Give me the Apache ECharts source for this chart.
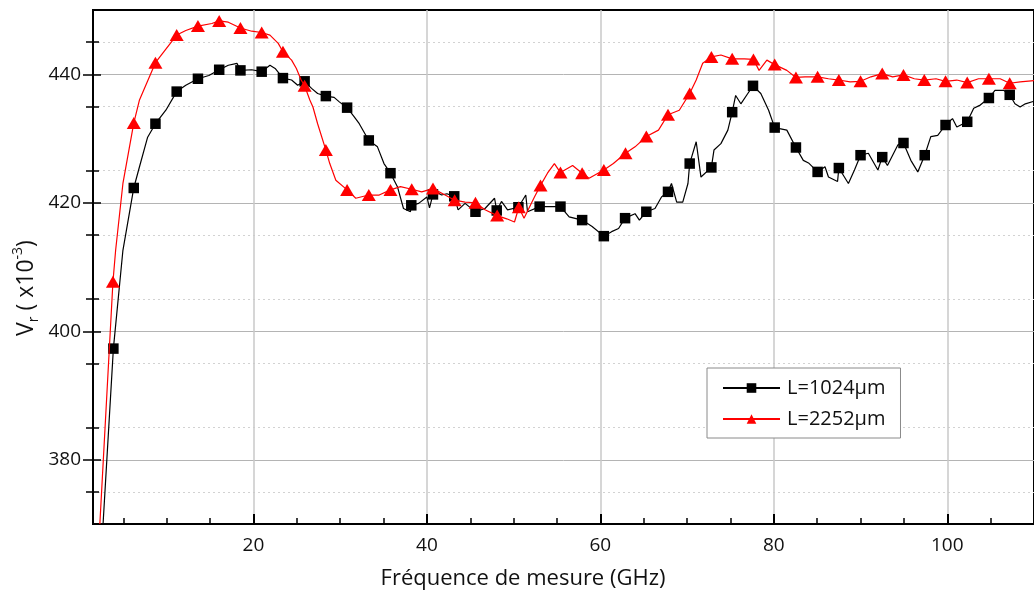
<!DOCTYPE html>
<html><head><meta charset="utf-8">
<script src="https://cdn.jsdelivr.net/npm/echarts@6/dist/echarts.min.js"></script>
<style>html,body{margin:0;padding:0;background:#fff}#c{width:1034px;height:592px}</style>
</head><body><div id="c"></div>
<script>
const xMajor = [20, 40, 60, 80, 100];
const xMinor = [5, 10, 15, 25, 30, 35, 45, 50, 55, 65, 70, 75, 85, 90, 95, 105];
const yMajor = [380, 400, 420, 440];
const yMinor = [375, 385, 395, 405, 415, 425, 435, 445];
const seriesNames = ['L=1024µm', 'L=2252µm'];
const xTitle = 'Fréquence de mesure (GHz)';

const blackMarkers = [[3.85,397.3],[6.2,422.3],[8.7,432.3],[11.15,437.3],[13.6,439.3],[16.05,440.7],[18.5,440.6],[20.95,440.4],[23.4,439.4],[25.9,438.9],[28.35,436.6],[30.8,434.8],[33.3,429.7],[35.8,424.6],[38.2,419.6],[40.7,421.3],[43.15,421.0],[45.6,418.6],[48.05,418.8],[50.55,419.3],[53.0,419.4],[55.4,419.4],[57.9,417.3],[60.4,414.8],[62.85,417.6],[65.3,418.6],[67.8,421.7],[70.3,426.1],[72.8,425.5],[75.2,434.1],[77.6,438.2],[80.1,431.7],[82.55,428.6],[85.05,424.8],[87.5,425.4],[90.0,427.4],[92.5,427.1],[94.95,429.3],[97.4,427.4],[99.8,432.1],[102.3,432.6],[104.8,436.3],[107.2,436.8]];

const blackLine = [[2.66,370],[4.95,412.6],[6.86,425.6],[7.8,430.2],[9.9,434.4],[12.2,438.3],[14.86,439.8],[17.1,441.4],[18.1,441.7],[19.8,440.7],[21.9,441.4],[22.5,440.9],[24.4,439.1],[25.1,438.3],[26.7,437.8],[27.4,437.0],[29.3,436.4],[29.9,435.7],[31.6,433.4],[32.2,432.3],[34.3,428.7],[35.05,426.1],[36.6,422.5],[37.3,419.1],[38.1,418.6],[39.05,419.9],[40.0,420.9],[40.3,419.2],[41.2,421.6],[41.7,421.2],[42.3,421.4],[43.6,418.9],[44.4,419.9],[46.7,419.1],[47.8,420.7],[48.6,420.2],[49.3,418.9],[51.4,421.2],[51.6,418.6],[54.3,419.4],[56.4,417.8],[59.05,416.3],[61.3,415.5],[62.1,416.0],[64.0,418.3],[64.5,417.3],[66.3,419.1],[67.05,420.9],[68.2,423.0],[68.8,420.1],[69.5,420.1],[70.1,423.0],[71.05,429.5],[71.6,424.0],[73.1,428.2],[73.9,429.2],[74.7,431.3],[75.6,436.7],[76.2,435.4],[77.0,437.0],[78.5,437.0],[79.4,434.4],[81.5,431.3],[83.4,426.6],[84.0,426.2],[85.9,425.6],[86.3,424.0],[87.35,423.3],[88.6,423.0],[89.3,425.1],[90.9,427.7],[92.0,425.1],[93.1,425.8],[94.3,429.0],[95.8,426.6],[96.6,424.8],[98.1,430.3],[98.9,430.5],[100.6,433.1],[101.1,431.8],[103.05,434.7],[103.8,435.2],[105.5,437.5],[106.5,437.5],[107.8,435.4],[108.4,434.9],[109.0,435.4],[110,435.8]];

const redMarkers = [[3.8,407.7],[6.2,432.4],[8.7,441.8],[11.15,446.1],[13.6,447.5],[16.05,448.3],[18.5,447.2],[20.95,446.5],[23.4,443.5],[25.9,438.2],[28.35,428.2],[30.8,422.0],[33.3,421.2],[35.8,422.0],[38.25,422.1],[40.7,422.2],[43.2,420.4],[45.6,420.0],[48.1,418.0],[50.6,419.3],[53.1,422.7],[55.4,424.7],[57.9,424.6],[60.4,425.1],[62.9,427.7],[65.3,430.3],[67.8,433.7],[70.3,437.0],[72.8,442.7],[75.2,442.4],[77.65,442.3],[80.1,441.5],[82.55,439.5],[85.05,439.6],[87.5,439.1],[90.0,438.9],[92.5,440.1],[94.95,439.9],[97.35,439.1],[99.8,438.9],[102.3,438.7],[104.8,439.3],[107.2,438.6]];

const redLine = [[2.29,370],[4.11,412.6],[4.95,423.0],[6.86,436.0],[12.2,446.8],[15.2,447.9],[17.1,448.1],[19.8,446.7],[21.9,446.1],[22.86,444.8],[24.4,442.2],[24.95,440.9],[25.5,439.1],[26.5,436.0],[26.86,434.9],[27.4,432.3],[28.8,426.1],[29.5,423.5],[31.8,420.7],[34.5,421.2],[36.95,422.5],[39.4,421.7],[42.1,421.2],[44.4,420.1],[46.7,418.9],[49.2,417.5],[50.1,417.0],[51.2,417.6],[52.4,420.9],[53.9,424.6],[54.7,426.1],[56.8,425.8],[58.7,423.8],[61.5,426.1],[64.0,428.7],[66.7,431.3],[69.1,434.4],[71.05,439.1],[71.8,441.7],[73.9,443.0],[76.6,442.4],[78.3,440.6],[79.2,442.2],[81.5,440.6],[83.6,439.6],[86.3,439.3],[88.8,438.8],[91.2,439.6],[93.7,439.6],[96.2,439.3],[98.7,439.3],[101.1,439.1],[103.6,439.3],[106.1,439.3],[108.4,438.8],[110,439.0]];

function merge(line, markers) {
  const pts = line.map(p => ({ value: p, symbol: 'none' }))
    .concat(markers.map(p => ({ value: p })));
  pts.sort((a, b) => a.value[0] - b.value[0]);
  return pts;
}

const FONT = '"Open Sans", "Noto Sans", sans-serif';
const TXT = '#111';

const baseX = { type: 'value', min: 1.5, max: 110, position: 'bottom' };
const baseY = { type: 'value', min: 370, max: 450, position: 'left' };

const option = {
  animation: false,
  backgroundColor: '#fff',
  grid: { left: 93, top: 10, width: 949.5, height: 514, show: true, borderColor: '#000', borderWidth: 2, backgroundColor: 'transparent' },
  xAxis: [
    Object.assign({}, baseX, {
      axisLine: { lineStyle: { color: '#000', width: 2 } },
      axisTick: { inside: true, length: 10, customValues: xMajor, lineStyle: { color: '#000', width: 2 } },
      axisLabel: { customValues: xMajor, fontSize: 19, fontFamily: FONT, color: TXT, margin: 12 },
      splitLine: { show: true, lineStyle: { color: '#c8c8c8', width: 1.5 } }
    }),
    Object.assign({}, baseX, {
      axisLine: { show: false },
      axisTick: { inside: true, length: 6, customValues: xMinor, lineStyle: { color: '#000', width: 1.5 } },
      axisLabel: { show: false },
      splitLine: { show: false }
    })
  ],
  yAxis: [
    Object.assign({}, baseY, {
      axisLine: { show: true, lineStyle: { color: '#000', width: 2 } },
      axisTick: { show: true, inside: false, length: 10, customValues: yMajor, lineStyle: { color: '#000', width: 1.5 } },
      axisLabel: { customValues: yMajor, fontSize: 19, fontFamily: FONT, color: TXT, margin: 12 },
      splitLine: { show: true, lineStyle: { color: '#b4b4b4', width: 1 } }
    }),
    Object.assign({}, baseY, {
      axisLine: { show: false },
      axisTick: { show: true, inside: false, length: 7, customValues: yMinor, lineStyle: { color: '#000', width: 1.5 } },
      axisLabel: { show: false },
      splitLine: { show: true, lineStyle: { color: '#d2d2d2', width: 1, type: [2, 3] } }
    }),
    Object.assign({}, baseY, {
      axisLine: { show: false },
      axisTick: { show: true, inside: true, length: 8, customValues: yMajor, lineStyle: { color: '#000', width: 1.5 } },
      axisLabel: { show: false },
      splitLine: { show: false }
    }),
    Object.assign({}, baseY, {
      axisLine: { show: false },
      axisTick: { show: true, inside: true, length: 6, customValues: yMinor, lineStyle: { color: '#000', width: 1.5 } },
      axisLabel: { show: false },
      splitLine: { show: false }
    })
  ],
  legend: {
    orient: 'vertical', left: 707, top: 368,
    padding: [10, 15, 9, 15],
    backgroundColor: '#fff', borderColor: '#8a8a8a', borderWidth: 1, borderRadius: 0,
    itemWidth: 57, itemHeight: 12, itemGap: 11,
    textStyle: { fontSize: 20, fontFamily: FONT, color: TXT, lineHeight: 20, padding: [0, 0, 0, 2] },
    data: seriesNames
  },
  series: [
    {
      name: seriesNames[0], type: 'line', xAxisIndex: 0, yAxisIndex: 0,
      symbol: 'rect', symbolSize: 10.5, showSymbol: true,
      lineStyle: { color: '#000', width: 1.2 }, itemStyle: { color: '#000' },
      data: merge(blackLine, blackMarkers), z: 3
    },
    {
      name: seriesNames[1], type: 'line', xAxisIndex: 0, yAxisIndex: 0,
      symbol: 'triangle', symbolSize: [14, 12], showSymbol: true,
      lineStyle: { color: '#ff0000', width: 1.2 }, itemStyle: { color: '#ff0000' },
      data: merge(redLine, redMarkers), z: 4
    }
  ],
  graphic: [
    {
      type: 'text', x: 523, y: 579,
      style: { text: xTitle, fontSize: 22, fontFamily: FONT, fill: TXT, align: 'center', verticalAlign: 'middle' }
    },
    {
      type: 'text', x: 26, y: 288, rotation: Math.PI / 2,
      style: {
        text: '{a|V}{s|r}{a| ( x10}{p|-3}{a|)}',
        align: 'center', verticalAlign: 'middle', fill: TXT,
        fontFamily: FONT, fontSize: 23,
        rich: {
          a: { fontSize: 23, fontFamily: FONT, fill: TXT, lineHeight: 30 },
          s: { fontSize: 14, fontFamily: FONT, fill: TXT, lineHeight: 12, verticalAlign: 'bottom' },
          p: { fontSize: 14, fontFamily: FONT, fill: TXT, lineHeight: 12, verticalAlign: 'top' }
        }
      }
    }
  ]
};

const chart = echarts.init(document.getElementById('c'), null, { renderer: 'canvas' });
chart.setOption(option);
</script>
</body></html>
